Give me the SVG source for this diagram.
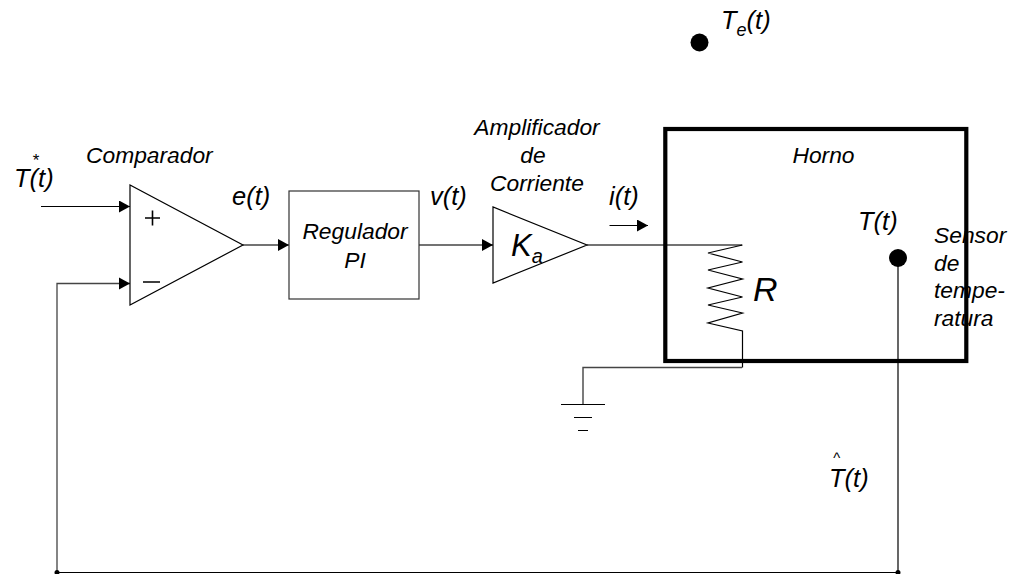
<svg xmlns="http://www.w3.org/2000/svg" width="1016" height="574" viewBox="0 0 1016 574">
<style>
text{font-family:"Liberation Sans",Arial,sans-serif;font-style:italic;fill:#000}
.s{font-size:22.800px}.m{font-size:25.500px}.l{font-size:34px}
.ln{fill:none;stroke:#000;stroke-width:1.2}
.g{fill:none;stroke:#444;stroke-width:1.4}
</style>
<defs><marker id="a" markerUnits="userSpaceOnUse" markerWidth="12" markerHeight="12" refX="11" refY="6" orient="auto"><path d="M0 0L11 6L0 12Z" fill="#000"/></marker></defs>
<g id="connectors">
<path class="ln" d="M41 206.500H130" marker-end="url(#a)"/>
<path class="g" d="M130 283.500H57V573" style="stroke-width:1.300"/>
<path d="M119 277.500L130 283.500L119 289.500Z" fill="#000"/>
<path class="g" d="M243 245H289" marker-end="url(#a)"/>
<path class="g" d="M419 245H493" marker-end="url(#a)"/>
<path class="ln" d="M609.500 225.500H648" marker-end="url(#a)"/>
<path class="g" d="M587 245H742"/>
<path class="ln" d="M742.500 245L708 253L742.500 262L708 270L742.500 279L708 288L742.500 297L708 305L742.500 313L708 323L742.500 331V367.500"/>
<path class="g" d="M742 367.500H583V404"/>
<path class="ln" d="M561 404.500H605M574 417.500H592M578 430.500H588"/>
<path class="ln" d="M898 258V573"/>
<path class="ln" d="M57 572.500H898"/>
<circle cx="57" cy="572.500" r="2.500" fill="#000"/><circle cx="898" cy="572.500" r="2.500" fill="#000"/>
</g>
<g id="comparador"><path class="ln" d="M130 185V305L243 245Z"/>
<path class="ln" style="stroke-width:1.600" d="M152.500 210.500V225.500M145 218H160M143 282H160"/>
<text class="s" x="86" y="163">Comparador</text></g>
<g id="regulador"><rect x="289" y="191" width="130" height="108" fill="none" stroke="#333" stroke-width="1.200"/>
<text class="s" x="355" y="239" text-anchor="middle">Regulador</text><text class="s" x="355" y="268" text-anchor="middle">PI</text></g>
<g id="amplificador"><path class="ln" d="M493 207V283L587 245Z"/>
<text class="s" x="537" y="135" text-anchor="middle">Amplificador</text><text class="s" x="533" y="163" text-anchor="middle">de</text><text class="s" x="537" y="191" text-anchor="middle">Corriente</text>
<text x="511" y="256" font-size="31">K<tspan font-size="20" dy="7">a</tspan></text></g>
<g id="horno"><rect x="665.300" y="129" width="301" height="232" fill="none" stroke="#000" stroke-width="4.200"/>
<text class="s" x="823.500" y="163" text-anchor="middle">Horno</text></g>
<g id="sensor"><circle cx="898" cy="258" r="9" fill="#000"/>
<text class="s" x="934" y="243">Sensor</text><text class="s" x="934" y="271">de</text><text class="s" x="934" y="298">tempe-</text><text class="s" x="934" y="326">ratura</text></g>
<g id="te"><circle cx="699.500" cy="42.500" r="9" fill="#000"/><text class="m" x="721" y="29">T<tspan font-size="18" dy="7">e</tspan><tspan dy="-7">(t)</tspan></text></g>
<g id="labels">
<text class="m" x="14" y="187">T(t)</text><text font-size="17" x="32" y="166">*</text>
<text class="m" x="232" y="205">e(t)</text>
<text class="m" x="430" y="205">v(t)</text>
<text class="m" x="609" y="205">i(t)</text>
<text class="m" x="858" y="230">T(t)</text>
<text class="l" x="753" y="301">R</text>
<text class="m" x="829" y="487">T(t)</text><text font-size="15" x="833" y="463">^</text>
</g>
</svg>
